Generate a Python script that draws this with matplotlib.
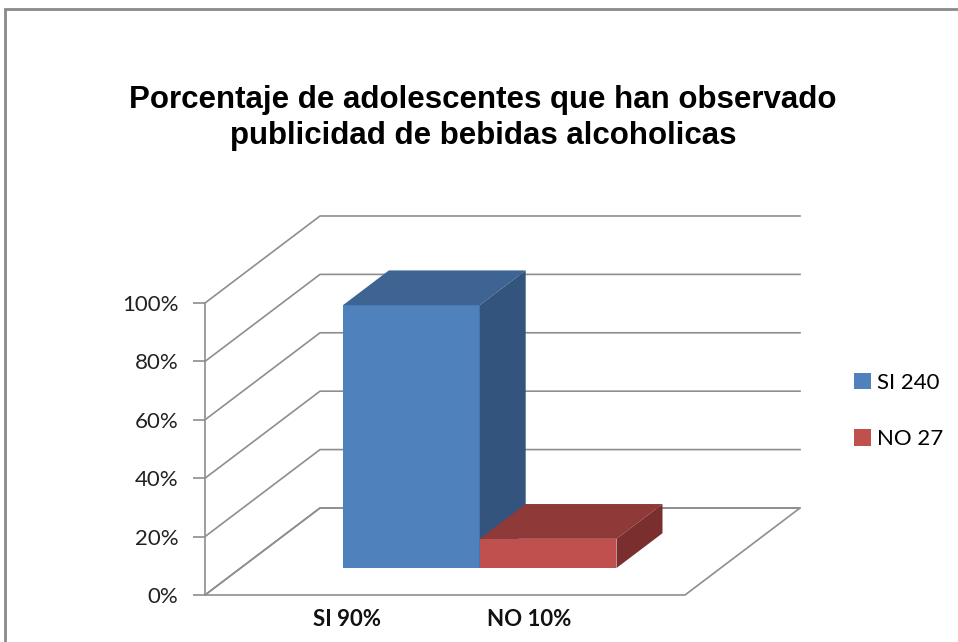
import matplotlib.pyplot as plt
from matplotlib.patches import Polygon, Patch, Rectangle
from matplotlib.ticker import PercentFormatter

# datos de la encuesta
series = ['SI', 'NO']
counts = [240, 27]
pct = [90, 10]
cat_labels = ['SI 90%', 'NO 10%']
yticks = [0, 20, 40, 60, 80, 100]

col_front = ['#4F81BD', '#C0504D']
col_top = ['#3D6493', '#8F3A38']
col_side = ['#32547D', '#7A2F2E']
grid_col = '#8E8E8E'

# profundidad del efecto 3D (oblicuo)
DX = 0.2396
DY = 29.8
f0, f1 = 0.31, 0.71   # frente y fondo de las columnas
bar_w = 0.285
x_start = 0.213

fig = plt.figure(figsize=(9.58, 6.42), dpi=100)
ax = fig.add_axes([205/958, 47/642, 480/958, 292/642])
ax.set_xlim(0, 1)
ax.set_ylim(0, 100)
for s in ['top', 'right', 'bottom']:
    ax.spines[s].set_visible(False)
ax.spines['left'].set_color(grid_col)
ax.spines['left'].set_linewidth(1.2)
ax.set_xticks([])
ax.set_yticks(yticks)
ax.yaxis.set_major_formatter(PercentFormatter(100, decimals=0))
ax.tick_params(axis='y', colors=grid_col, length=9, width=1.2, pad=10)
for t in ax.get_yticklabels():
    t.set_color('#222222')
    t.set_fontfamily('Lato')
    t.set_fontsize(16)
ax.patch.set_visible(False)

# paredes: lineas de division y piso
for y in yticks:
    ax.plot([0, DX, 1 + DX], [y, y + DY, y + DY], color=grid_col, lw=1.2,
            clip_on=False, zorder=1)
floor = Polygon([(0, 0), (1, 0), (1 + DX, DY), (DX, DY)], closed=True,
                facecolor='none', edgecolor=grid_col, lw=1.2, clip_on=False, zorder=1)
ax.add_patch(floor)

# columnas
handles = []
for i, v in enumerate(pct):
    x0 = x_start + i * bar_w
    x1 = x0 + bar_w
    fr = Polygon([(x0 + f0*DX, f0*DY), (x1 + f0*DX, f0*DY),
                  (x1 + f0*DX, v + f0*DY), (x0 + f0*DX, v + f0*DY)],
                 closed=True, facecolor=col_front[i], edgecolor='none',
                 clip_on=False, zorder=3 + i)
    tp = Polygon([(x0 + f0*DX, v + f0*DY), (x1 + f0*DX, v + f0*DY),
                  (x1 + f1*DX, v + f1*DY), (x0 + f1*DX, v + f1*DY)],
                 closed=True, facecolor=col_top[i], edgecolor='none',
                 clip_on=False, zorder=3 + i)
    sd = Polygon([(x1 + f0*DX, f0*DY), (x1 + f1*DX, f1*DY),
                  (x1 + f1*DX, v + f1*DY), (x1 + f0*DX, v + f0*DY)],
                 closed=True, facecolor=col_side[i], edgecolor='none',
                 clip_on=False, zorder=3 + i)
    for p in (fr, tp, sd):
        ax.add_patch(p)
    handles.append(Patch(facecolor=col_front[i], edgecolor='none'))

# etiquetas de categoria
cat_x = [0.296, 0.675]
for x, lab in zip(cat_x, cat_labels):
    ax.text(x, -8.5, lab, ha='center', va='center', fontsize=16,
            fontweight='bold', fontfamily='Lato', color='#111111')

fig.text(483/958, 1 - 118/642,
         'Porcentaje de adolescentes que han observado\npublicidad de bebidas alcoholicas',
         ha='center', va='center', fontsize=22.5, fontweight='bold',
         fontfamily='Liberation Sans', linespacing=1.22)

leg_labels = [f'{s} {c}' for s, c in zip(series, counts)]
fig.legend(handles, leg_labels, loc='center left',
           bbox_to_anchor=(834/958, 1 - 411/642), frameon=False,
           handlelength=0.75, handleheight=0.75, handletextpad=0.3,
           labelspacing=1.65, prop={'family': 'Lato', 'size': 16})

# marco del grafico
fig.patches.append(Rectangle((5/958, -0.05), 1.05, 1 - 9/642 + 0.05,
                             transform=fig.transFigure, facecolor='none',
                             edgecolor='#8a8a8a', lw=2))

fig.savefig('out.png', dpi=100)
